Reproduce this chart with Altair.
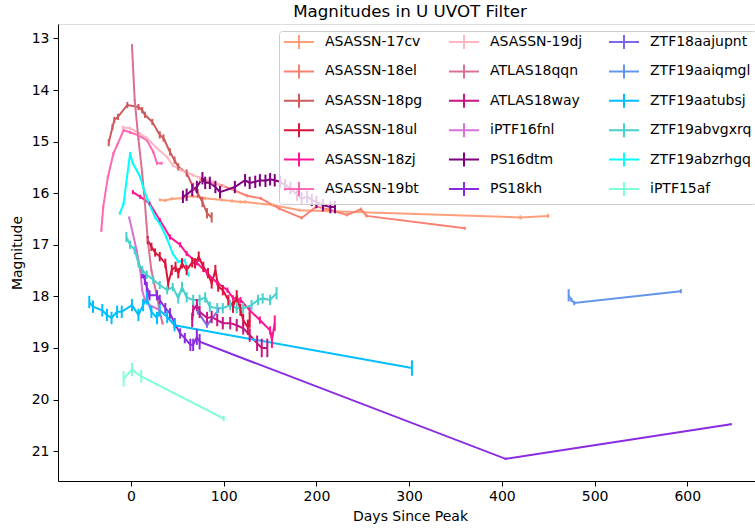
import altair as alt
import pandas as pd

# ---------------- data ----------------
names = ["ASASSN-17cv", "ASASSN-18el", "ASASSN-18pg", "ASASSN-18ul", "ASASSN-18zj",
         "ASASSN-19bt", "ASASSN-19dj", "ATLAS18qqn", "ATLAS18way", "iPTF16fnl",
         "PS16dtm", "PS18kh", "ZTF18aajupnt", "ZTF19aaiqmgl", "ZTF19aatubsj",
         "ZTF19abvgxrq", "ZTF19abzrhgq", "iPTF15af"]
colors = ["#FFA07A", "#FA8072", "#CD5C5C", "#DC143C", "#FF1493",
          "#FF69B4", "#FFB6C1", "#DB7093", "#C71585", "#DA70D6",
          "#800080", "#8A2BE2", "#7B68EE", "#6495ED", "#00BFFF",
          "#48D1CC", "#00FFFF", "#7FFFD4"]

a17cv_t = [31, 37, 44, 55, 60, 67, 80, 98, 109, 118, 123, 153, 182, 420, 450]
a17cv_m = [16.13, 16.14, 16.11, 16.10, 16.07, 16.06, 16.10, 16.13, 16.15, 16.17, 16.17, 16.23, 16.33, 16.47, 16.44]
a17cv_e = [0.03, 0.03, 0.03, 0.03, 0.03, 0.03, 0.03, 0.03, 0.03, 0.03, 0.03, 0.03, 0.03, 0.04, 0.04]

a18el_t = [75, 88, 98, 112, 125, 140, 160, 184, 200, 214, 233, 248, 254, 360]
a18el_m = [15.75, 15.80, 15.85, 15.95, 16.05, 16.10, 16.30, 16.48, 16.26, 16.32, 16.42, 16.31, 16.44, 16.68]
a18el_e = [0.03, 0.03, 0.03, 0.03, 0.03, 0.03, 0.03, 0.03, 0.03, 0.03, 0.03, 0.03, 0.03, 0.03]

a18pg_t = [-24, -20, -18, -14, -4, 8, 12, 15, 23, 31, 35, 42, 47, 51, 60, 67, 72, 77, 82, 87]
a18pg_m = [15.02, 14.72, 14.58, 14.52, 14.29, 14.33, 14.39, 14.48, 14.62, 14.87, 14.93, 15.20, 15.36, 15.49, 15.61, 15.88, 16.00, 16.17, 16.39, 16.47]
a18pg_e = [0.07, 0.06, 0.06, 0.06, 0.06, 0.06, 0.06, 0.06, 0.06, 0.07, 0.07, 0.07, 0.07, 0.07, 0.07, 0.08, 0.08, 0.1, 0.1, 0.1]

a18ul_t = [18, 22, 26, 31, 37, 40, 44, 48, 51, 55, 60, 66, 69, 73, 78, 83, 87, 91, 94, 99, 105, 110, 114, 118, 121, 126, 128]
a18ul_m = [16.91, 17.04, 17.15, 17.23, 17.36, 17.75, 17.49, 17.43, 17.55, 17.36, 17.49, 17.34, 17.36, 17.23, 17.43, 17.55, 17.75, 17.49, 17.81, 17.88, 18.07, 18.20, 18.00, 18.26, 18.46, 18.60, 18.46]
a18ul_e = [0.08, 0.08, 0.08, 0.09, 0.09, 0.1, 0.1, 0.1, 0.1, 0.1, 0.1, 0.1, 0.1, 0.1, 0.1, 0.1, 0.1, 0.1, 0.1, 0.1, 0.1, 0.12, 0.12, 0.12, 0.12, 0.15, 0.15]

a18zj_t = [2, 10, 20, 31, 42, 53, 60, 71, 82, 93, 104, 110, 118, 128, 139, 150, 152, 155]
a18zj_m = [15.98, 16.07, 16.20, 16.52, 16.85, 17.00, 17.17, 17.35, 17.55, 17.74, 17.88, 18.03, 18.07, 18.27, 18.46, 18.66, 18.85, 18.52]
a18zj_e = [0.04, 0.04, 0.04, 0.04, 0.05, 0.05, 0.05, 0.05, 0.05, 0.05, 0.05, 0.05, 0.06, 0.06, 0.07, 0.08, 0.15, 0.15]

a19bt_t = [-32, -30, -25, -19, -15, -8, -1, 8, 17, 24, 28, 33]
a19bt_m = [16.72, 16.27, 15.69, 15.23, 15.07, 14.78, 14.82, 14.88, 14.97, 15.20, 15.42, 15.42]
a19bt_e = [0.03, 0.03, 0.03, 0.03, 0.03, 0.03, 0.03, 0.03, 0.03, 0.03, 0.03, 0.03]

a19dj_t = [-9, -1, 10, 17, 28, 39, 45, 53, 67, 74, 88, 100]
a19dj_m = [14.72, 14.74, 14.85, 14.93, 15.13, 15.30, 15.46, 15.55, 15.65, 15.70, 15.78, 15.86]
a19dj_e = [0.03, 0.03, 0.03, 0.03, 0.03, 0.03, 0.03, 0.03, 0.03, 0.03, 0.03, 0.03]

qqn_t = [1, 4, 8, 12, 15, 18, 22, 28, 31, 34]
qqn_m = [13.13, 14.20, 14.95, 15.60, 16.20, 16.90, 17.50, 18.00, 18.30, 18.52]
qqn_e = [0.02, 0.02, 0.02, 0.02, 0.02, 0.02, 0.02, 0.03, 0.03, 0.03]

way_t = [66, 67, 71, 74, 82, 87, 93, 99, 107, 114, 121, 128, 136, 141, 147]
way_m = [18.46, 18.26, 18.17, 18.30, 18.42, 18.40, 18.46, 18.52, 18.52, 18.56, 18.62, 18.75, 18.91, 19.00, 19.00]
way_e = [0.14, 0.12, 0.12, 0.12, 0.12, 0.12, 0.12, 0.12, 0.12, 0.12, 0.12, 0.13, 0.15, 0.18, 0.18]

fnl_t = [-2, 2, 6, 10, 12, 15, 20, 28, 31]
fnl_m = [16.47, 16.78, 17.10, 17.50, 17.88, 18.07, 18.17, 18.24, 18.27]
fnl_e = [0.02, 0.02, 0.02, 0.02, 0.02, 0.02, 0.02, 0.02, 0.02]

dtm_t = [56, 60, 66, 71, 77, 80, 85, 91, 96, 112, 123, 128, 134, 139, 145, 150, 155, 161, 166, 172, 179, 184, 190, 195, 200, 207, 215, 220]
dtm_m = [16.07, 16.03, 15.94, 15.88, 15.71, 15.80, 15.80, 15.88, 15.98, 15.88, 15.75, 15.80, 15.78, 15.75, 15.76, 15.73, 15.75, 15.78, 15.84, 15.90, 16.03, 16.10, 16.07, 16.13, 16.17, 16.23, 16.27, 16.27]
dtm_e = [0.12, 0.12, 0.12, 0.12, 0.12, 0.12, 0.12, 0.12, 0.12, 0.12, 0.12, 0.12, 0.12, 0.12, 0.12, 0.12, 0.12, 0.12, 0.12, 0.12, 0.12, 0.12, 0.12, 0.12, 0.12, 0.12, 0.12, 0.12]

kh_t = [12, 15, 17, 18, 20, 28, 31, 37, 42, 47, 53, 58, 64, 67, 71, 74, 404, 647]
kh_m = [17.55, 17.68, 17.82, 17.94, 17.98, 17.98, 18.07, 18.23, 18.33, 18.52, 18.72, 18.81, 18.94, 18.94, 18.79, 18.88, 21.15, 20.48]
kh_e = [0.1, 0.1, 0.1, 0.1, 0.1, 0.1, 0.1, 0.1, 0.1, 0.1, 0.1, 0.1, 0.12, 0.12, 0.15, 0.15, 0.02, 0.02]

jup_t = [72, 82, 94]
jup_m = [18.30, 18.56, 18.27]
jup_e = [0.05, 0.05, 0.05]

iqm_t = [472, 475, 478, 593]
iqm_m = [17.98, 18.07, 18.13, 17.90]
iqm_e = [0.12, 0.04, 0.04, 0.04]

tub_t = [-45, -41, -31, -26, -21, -15, -10, 1, 8, 13, 17, 22, 28, 31, 39, 47, 303]
tub_m = [18.11, 18.20, 18.27, 18.36, 18.42, 18.30, 18.30, 18.17, 18.36, 18.17, 18.04, 18.30, 18.42, 18.27, 18.40, 18.56, 19.39]
tub_e = [0.12, 0.12, 0.12, 0.12, 0.12, 0.12, 0.12, 0.12, 0.12, 0.12, 0.12, 0.12, 0.12, 0.12, 0.12, 0.12, 0.15]

gxr_t = [-5, -1, 4, 8, 12, 17, 24, 31, 39, 45, 51, 55, 60, 67, 74, 80, 85, 93, 99, 107, 114, 121, 130, 137, 142, 150, 157]
gxr_m = [16.85, 17.00, 17.10, 17.36, 17.49, 17.58, 17.68, 17.78, 17.88, 17.82, 18.04, 17.82, 18.02, 18.07, 18.07, 18.02, 18.20, 18.23, 18.23, 18.17, 18.23, 18.23, 18.17, 18.07, 18.04, 18.07, 17.94]
gxr_e = [0.1, 0.08, 0.08, 0.08, 0.08, 0.08, 0.08, 0.08, 0.08, 0.08, 0.1, 0.1, 0.1, 0.1, 0.1, 0.1, 0.1, 0.1, 0.1, 0.1, 0.1, 0.1, 0.1, 0.1, 0.1, 0.1, 0.12]

rhg_t = [-12, -8, -1, 2, 10, 13, 18, 26, 31, 38, 45, 51, 58, 62]
rhg_m = [16.39, 16.20, 15.23, 15.42, 15.69, 15.88, 16.14, 16.47, 16.59, 16.85, 17.17, 17.33, 17.30, 17.59]
rhg_e = [0.03, 0.03, 0.03, 0.03, 0.03, 0.03, 0.03, 0.03, 0.03, 0.03, 0.03, 0.03, 0.03, 0.03]

af_t = [-8, 1, 11, 100]
af_m = [19.60, 19.42, 19.55, 20.37]
af_e = [0.15, 0.13, 0.12, 0.05]

series_t = [a17cv_t, a18el_t, a18pg_t, a18ul_t, a18zj_t, a19bt_t, a19dj_t, qqn_t, way_t,
            fnl_t, dtm_t, kh_t, jup_t, iqm_t, tub_t, gxr_t, rhg_t, af_t]
series_m = [a17cv_m, a18el_m, a18pg_m, a18ul_m, a18zj_m, a19bt_m, a19dj_m, qqn_m, way_m,
            fnl_m, dtm_m, kh_m, jup_m, iqm_m, tub_m, gxr_m, rhg_m, af_m]
series_e = [a17cv_e, a18el_e, a18pg_e, a18ul_e, a18zj_e, a19bt_e, a19dj_e, qqn_e, way_e,
            fnl_e, dtm_e, kh_e, jup_e, iqm_e, tub_e, gxr_e, rhg_e, af_e]

x_ticks = [0, 100, 200, 300, 400, 500, 600]
y_ticks = [13, 14, 15, 16, 17, 18, 19, 20, 21]

# ---------------- table ----------------
rows = []
for k, (n, ts, ms, es) in enumerate(zip(names, series_t, series_m, series_e)):
    for i, (t, m, e) in enumerate(zip(ts, ms, es)):
        rows.append({"name": n, "k": k, "i": i, "day": t, "mag": m,
                     "lo": m - e, "hi": m + e})
df = pd.DataFrame(rows)

FONT = "DejaVu Sans"
xscale = alt.Scale(domain=[-78.75, 673.0], nice=False, zero=False)
yscale = alt.Scale(domain=[12.72, 21.58], nice=False, zero=False, reverse=True)
cscale = alt.Scale(domain=names, range=colors)

color = alt.Color(
    "name:N",
    scale=cscale,
    legend=alt.Legend(
        title=None, orient="none", legendX=221, legendY=7, columns=3,
        symbolType="M-1.2,0H4.8M1.8,-1.4V1.4", symbolSize=100, symbolStrokeWidth=2,
        symbolFillColor="transparent",
        labelFont=FONT, labelFontSize=14, labelColor="black", labelOffset=28,
        rowPadding=7.4, columnPadding=22, padding=4, gridAlign="each",
        fillColor="rgba(255,255,255,0.8)", strokeColor="#cccccc", cornerRadius=3,
        labelLimit=200,
    ),
)

axis_style = dict(
    grid=False, tickSize=5, tickColor="black", tickWidth=1,
    domainColor="black", domainWidth=1,
    labelFont=FONT, labelFontSize=14, labelColor="black",
    titleFont=FONT, titleFontSize=14, titleFontWeight="normal", titleColor="black",
)
xaxis = alt.Axis(values=x_ticks, title="Days Since Peak", labelPadding=3,
                 titlePadding=6, titleX=352, **axis_style)
yaxis = alt.Axis(values=y_ticks, title="Magnitude", labelPadding=4,
                 titlePadding=7, **axis_style)

base = alt.Chart(df)
lines = base.mark_line(strokeWidth=2, clip=True).encode(
    x=alt.X("day:Q", scale=xscale, axis=xaxis),
    y=alt.Y("mag:Q", scale=yscale, axis=yaxis),
    color=color,
    detail="k:N",
    order="i:Q",
)
bars = base.mark_rule(strokeWidth=2, clip=True).encode(
    x=alt.X("day:Q", scale=xscale),
    y=alt.Y("lo:Q", scale=yscale),
    y2="hi:Q",
    color=alt.Color("name:N", scale=cscale),
)

chart = alt.layer(lines, bars).properties(
    width=697, height=457,
    title=alt.TitleParams("Magnitudes in U UVOT Filter", font=FONT, fontSize=16.7,
                          fontWeight="normal", color="black", offset=3, dx=3.5),
    autosize=alt.AutoSizeParams(type="none"),
    padding={"left": 58, "top": 24, "right": 0, "bottom": 51},
).configure_view(
    stroke="#222222", strokeWidth=1,
).configure(background="white")

chart.save("out.html", embed_options={"renderer": "svg", "actions": False})
